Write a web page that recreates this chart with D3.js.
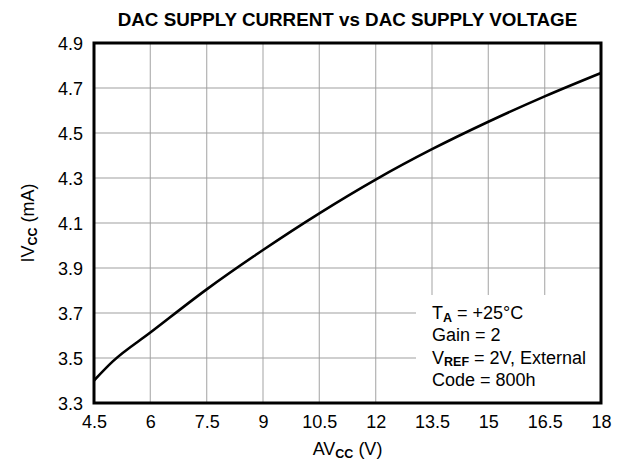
<!DOCTYPE html>
<html>
<head>
<meta charset="utf-8">
<script src="https://cdn.jsdelivr.net/npm/d3@7"></script>
<style>
  body { margin: 0; background: #fff; }
  svg { display: block; font-family: Arial, "Liberation Sans", Helvetica, sans-serif; }
</style>
</head>
<body>
<svg id="chart" width="623" height="460"></svg>
<script>
// Supply voltage (V) and measured DAC supply current (mA)
const supplyVoltage = [4.5, 5.0, 6.0, 7.5, 9.0, 10.5, 12.0, 13.5, 15.0, 16.5, 18.0];
const supplyCurrent = [3.40, 3.485, 3.613, 3.805, 3.98, 4.143, 4.293, 4.428, 4.55, 4.663, 4.767];

const xTicks = [4.5, 6, 7.5, 9, 10.5, 12, 13.5, 15, 16.5, 18];
const yTicks = [3.3, 3.5, 3.7, 3.9, 4.1, 4.3, 4.5, 4.7, 4.9];

const conditions = [
  { main: "T", sub: "A", rest: " = +25°C" },
  { main: "Gain = 2", sub: "", rest: "" },
  { main: "V", sub: "REF", rest: " = 2V, External" },
  { main: "Code = 800h", sub: "", rest: "" }
];

const W = 623, H = 460;
const m = { top: 43, right: 22, bottom: 57, left: 94 };
const iw = W - m.left - m.right, ih = H - m.top - m.bottom;
const bodyFont = 18;

const svg = d3.select("#chart");
const g = svg.append("g").attr("transform", `translate(${m.left},${m.top})`);

const x = d3.scaleLinear().domain([4.5, 18]).range([0, iw]);
const y = d3.scaleLinear().domain([3.3, 4.9]).range([ih, 0]);

// Grid
g.append("g").selectAll("line").data(xTicks.slice(1, -1)).join("line")
  .attr("x1", d => x(d)).attr("x2", d => x(d))
  .attr("y1", 0).attr("y2", ih)
  .attr("stroke", "#b8b8b8").attr("stroke-width", 1.3);
g.append("g").selectAll("line").data(yTicks.slice(1, -1)).join("line")
  .attr("x1", 0).attr("x2", iw)
  .attr("y1", d => y(d)).attr("y2", d => y(d))
  .attr("stroke", "#a0a0a0").attr("stroke-width", 1.2);

// Tick labels via axes (no tick lines / domain)
const xAxis = g.append("g").attr("transform", `translate(0,${ih})`)
  .call(d3.axisBottom(x).tickValues(xTicks).tickSize(0).tickPadding(12).tickFormat(d3.format("")));
const yAxis = g.append("g")
  .call(d3.axisLeft(y).tickValues(yTicks).tickSize(0).tickPadding(11).tickFormat(d3.format(".1f")));
[xAxis, yAxis].forEach(a => {
  a.select(".domain").remove();
  a.selectAll("text").attr("font-size", bodyFont).attr("fill", "#000")
    .attr("font-family", "Arial, 'Liberation Sans', sans-serif");
});
yAxis.selectAll("text").attr("dy", "0.36em");
xAxis.selectAll("text").attr("dy", "0.7em");

// Curve
const line = d3.line()
  .x((d, i) => x(supplyVoltage[i]))
  .y(d => y(d))
  .curve(d3.curveMonotoneX);
g.append("path").datum(supplyCurrent)
  .attr("d", line)
  .attr("fill", "none").attr("stroke", "#000").attr("stroke-width", 2.6);

// Conditions box
const boxX = 322, boxY = 252;
g.append("rect").attr("x", boxX).attr("y", boxY)
  .attr("width", iw - boxX).attr("height", ih - boxY).attr("fill", "#fff");

const legend = g.append("g").attr("font-size", bodyFont).attr("fill", "#000");
conditions.forEach((c, i) => {
  const t = legend.append("text").attr("x", 338).attr("y", 276 + i * 22.3);
  t.append("tspan").text(c.main);
  if (c.sub) {
    t.append("tspan").text(c.sub).attr("font-size", 12.5).attr("font-weight", "bold").attr("dy", 2.5);
    t.append("tspan").text(c.rest).attr("dy", -2.5);
  }
});

// Frame
g.append("rect").attr("x", 0).attr("y", 0).attr("width", iw).attr("height", ih)
  .attr("fill", "none").attr("stroke", "#000").attr("stroke-width", 3);

// Title
svg.append("text").attr("x", m.left + iw / 2).attr("y", 26)
  .attr("text-anchor", "middle").attr("font-size", 18.8).attr("font-weight", "bold")
  .text("DAC SUPPLY CURRENT vs DAC SUPPLY VOLTAGE");

// X axis label
const xl = svg.append("text").attr("x", m.left + iw / 2).attr("y", 455)
  .attr("text-anchor", "middle").attr("font-size", bodyFont);
xl.append("tspan").text("AV");
xl.append("tspan").text("CC").attr("font-size", 12.5).attr("font-weight", "bold").attr("dy", 2.5);
xl.append("tspan").text(" (V)").attr("dy", -2.5);

// Y axis label
const yl = svg.append("text")
  .attr("transform", `translate(34,${m.top + ih / 2}) rotate(-90)`)
  .attr("text-anchor", "middle").attr("font-size", bodyFont);
yl.append("tspan").text("IV");
yl.append("tspan").text("CC").attr("font-size", 12.5).attr("font-weight", "bold").attr("dy", 2.5);
yl.append("tspan").text(" (mA)").attr("dy", -2.5);
</script>
</body>
</html>
